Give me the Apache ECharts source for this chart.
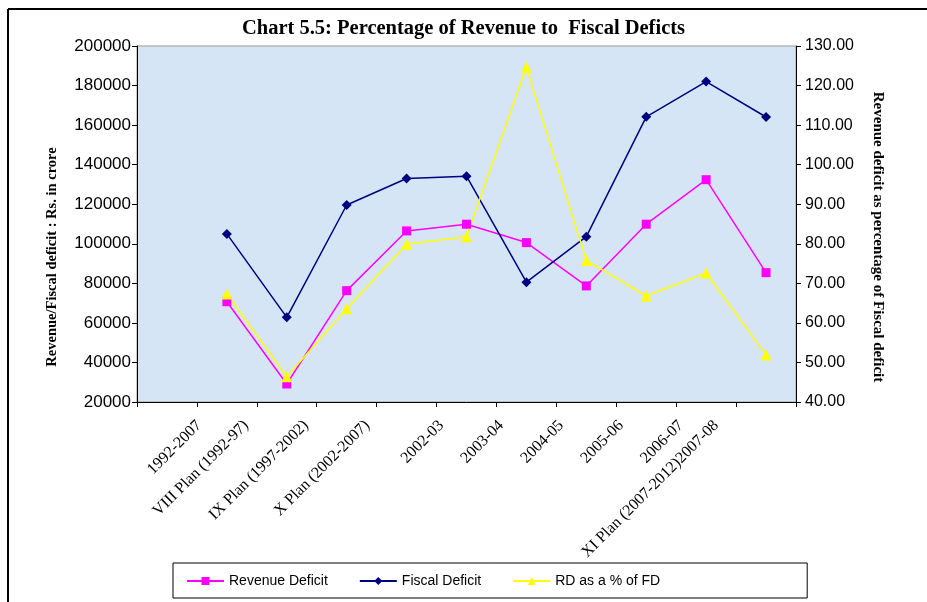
<!DOCTYPE html>
<html>
<head>
<meta charset="utf-8">
<script src="https://cdn.jsdelivr.net/npm/echarts@6/dist/echarts.min.js"></script>
<style>
  html, body { margin: 0; padding: 0; background: #fff; }
  #chart { width: 927px; height: 602px; }
</style>
</head>
<body>
<div id="chart"></div>
<script>
// categories (first slot is empty, as in the source sheet)
var categories = ['', '1992-2007', 'VIII Plan (1992-97)', 'IX Plan (1997-2002)', 'X Plan (2002-2007)',
  '2002-03', '2003-04', '2004-05', '2005-06', '2006-07', 'XI Plan (2007-2012)2007-08']
var revenueDeficit = [null, 70700, 29100, 76300, 106500, 109900, 100600, 78700, 109900, 132400, 85400]
var fiscalDeficit = [null, 105000, 62800, 119600, 133000, 134200, 80600, 103600, 164200, 182000, 164100]
var rdPercent = [null, 67.3, 46.4, 63.6, 79.9, 81.8, 124.6, 75.8, 66.8, 72.6, 51.9]

var serif = '"Liberation Serif", "Times New Roman", serif'
var sans = '"Liberation Sans", Arial, sans-serif'

// excel pushes the rotated labels left, longer ones more
var rich = {}
categories.forEach(function (c, i) {
  var dx = -12 - 1.3 * c.length
  var b = Math.max(0, -(dx + 17) / 0.708)
  var p = (21 + 0.354 * b) / 0.707
  rich['c' + i] = { fontFamily: serif, fontSize: 16, color: '#000', padding: [0, p, b, 0] }
})

var chart = echarts.init(document.getElementById('chart'))
chart.setOption({
  animation: false,
  backgroundColor: '#fff',
  title: {
    text: 'Chart 5.5: Percentage of Revenue to  Fiscal Deficts',
    left: 'center',
    top: 13,
    textStyle: { fontFamily: serif, fontWeight: 'bold', fontSize: 20.5, color: '#000' }
  },
  graphic: [
    { type: 'line', shape: { x1: 8, y1: 9, x2: 927, y2: 9 }, style: { stroke: '#000', lineWidth: 2 } },
    { type: 'line', shape: { x1: 8, y1: 9, x2: 8, y2: 602 }, style: { stroke: '#000', lineWidth: 2 } },
    {
      type: 'text', x: 52, y: 257, rotation: Math.PI / 2,
      style: { text: 'Revenue/Fiscal deficit : Rs. in crore', font: 'bold 14.5px ' + serif, fill: '#000', align: 'center', verticalAlign: 'middle' }
    },
    {
      type: 'text', x: 878, y: 237, rotation: -Math.PI / 2,
      style: { text: 'Revenue deficit as percentage of Fiscal deficit', font: 'bold 15px ' + serif, fill: '#000', align: 'center', verticalAlign: 'middle' }
    }
  ],
  legend: {
    left: 173,
    top: 563,
    padding: [11, 147, 10, 13],
    borderColor: '#000',
    borderWidth: 1,
    itemGap: 31,
    itemWidth: 37,
    itemHeight: 10,
    textStyle: { fontFamily: sans, fontSize: 14, color: '#000' },
    data: ['Revenue Deficit', 'Fiscal Deficit', 'RD as a % of FD']
  },
  grid: {
    left: 137,
    right: 131,
    top: 46,
    bottom: 200,
    show: true,
    backgroundColor: '#d6e5f6',
    borderColor: '#999',
    borderWidth: 1
  },
  xAxis: {
    type: 'category',
    data: categories,
    boundaryGap: true,
    axisLine: { lineStyle: { color: '#000', width: 1 } },
    axisTick: { show: true, length: 5, lineStyle: { color: '#000' } },
    axisLabel: {
      interval: 0,
      rotate: 45,
      margin: 0,
      hideOverlap: false,
      formatter: function (value, index) { return value ? '{c' + index + '|' + value + '}' : '' },
      rich: rich
    }
  },
  yAxis: [
    {
      type: 'value',
      min: 20000,
      max: 200000,
      interval: 20000,
      axisLine: { show: true, lineStyle: { color: '#000' } },
      axisTick: { show: true, length: 5, lineStyle: { color: '#000' } },
      axisLabel: { fontFamily: sans, fontSize: 17, color: '#000', margin: 6, formatter: function (v) { return String(v) } },
      splitLine: { show: false }
    },
    {
      type: 'value',
      min: 40,
      max: 130,
      interval: 10,
      position: 'right',
      axisLine: { show: true, lineStyle: { color: '#000' } },
      axisTick: { show: true, length: 5, lineStyle: { color: '#000' } },
      axisLabel: { fontFamily: sans, fontSize: 16, color: '#000', margin: 9, formatter: function (v) { return v.toFixed(2) } },
      splitLine: { show: false }
    }
  ],
  series: [
    {
      name: 'Revenue Deficit',
      type: 'line',
      data: revenueDeficit,
      symbol: 'rect',
      symbolSize: 9,
      itemStyle: { color: '#ff00ff' },
      lineStyle: { color: '#ff00ff', width: 1.5 }
    },
    {
      name: 'Fiscal Deficit',
      type: 'line',
      data: fiscalDeficit,
      symbol: 'path://M0,-1L1,0L0,1L-1,0Z',
      symbolSize: 10,
      itemStyle: { color: '#000080' },
      lineStyle: { color: '#000080', width: 1.5 }
    },
    {
      name: 'RD as a % of FD',
      type: 'line',
      yAxisIndex: 1,
      data: rdPercent,
      symbol: 'triangle',
      symbolSize: 11,
      itemStyle: { color: '#ffff00' },
      lineStyle: { color: '#ffff00', width: 1.5 }
    }
  ]
})
</script>
</body>
</html>
